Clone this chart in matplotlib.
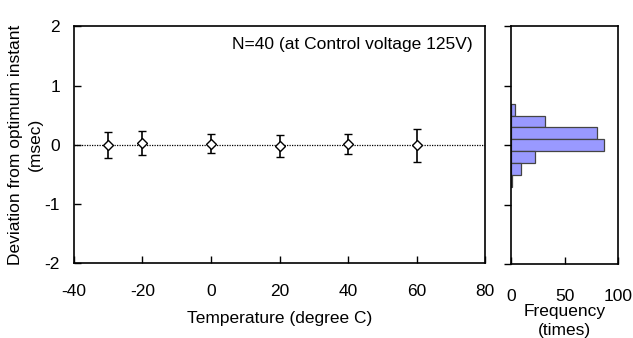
import matplotlib
matplotlib.use("Agg")
import matplotlib.pyplot as plt
from matplotlib.ticker import MultipleLocator

plt.rcParams['font.family'] = ['Liberation Sans', 'DejaVu Sans']
plt.rcParams['axes.unicode_minus'] = False

temperatures = [-30, -20, 0, 20, 40, 60]
deviation_mean = [0.00, 0.03, 0.02, -0.02, 0.01, -0.01]
deviation_err = [0.22, 0.21, 0.16, 0.19, 0.17, 0.28]

hist_bin_centers = [0.6, 0.4, 0.2, 0.0, -0.2, -0.4, -0.6]
hist_counts = [4, 32, 80, 87, 22, 9, 1]
bin_width = 0.2

fig = plt.figure(figsize=(6.33, 3.38), dpi=100)
ax = fig.add_axes([0.1169, 0.2219, 0.6493, 0.6998])
axh = fig.add_axes([0.8073, 0.2190, 0.1690, 0.7027])

fs = 12.5

ax.axhline(0, color='black', linestyle=(0, (1, 1)), linewidth=0.9, zorder=1)
ax.errorbar(temperatures, deviation_mean, yerr=deviation_err, fmt='D',
            markersize=5, markerfacecolor='white', markeredgecolor='black',
            markeredgewidth=1.0, ecolor='black', elinewidth=1.2, capsize=2.7,
            capthick=1.2, zorder=3)
ax.set_xlim(-40, 80)
ax.set_ylim(-2, 2)
ax.xaxis.set_major_locator(MultipleLocator(20))
ax.yaxis.set_major_locator(MultipleLocator(1))
ax.tick_params(axis='x', direction='in', length=5, width=1, labelsize=fs, pad=15)
ax.tick_params(axis='y', direction='in', length=5, width=1, labelsize=fs, pad=10)
for s in ax.spines.values():
    s.set_linewidth(1.2)
ax.set_xlabel('Temperature (degree C)', fontsize=fs, labelpad=9)
ax.set_ylabel('Deviation from optimum instant\n(msec)', fontsize=fs, labelpad=1,
              linespacing=1.45)
ax.text(0.97, 0.925, 'N=40 (at Control voltage 125V)', transform=ax.transAxes,
        ha='right', va='center', fontsize=fs)

axh.barh(hist_bin_centers, hist_counts, height=bin_width, color='#9999ff',
         edgecolor='#444444', linewidth=0.9)
axh.set_xlim(0, 100)
axh.set_ylim(-2, 2)
axh.xaxis.set_major_locator(MultipleLocator(50))
axh.yaxis.set_major_locator(MultipleLocator(1))
axh.tick_params(axis='x', direction='in', length=5, width=1, labelsize=fs, pad=18)
axh.tick_params(axis='y', direction='out', length=5, width=1, labelleft=False)
for s in axh.spines.values():
    s.set_linewidth(1.2)
axh.set_xlabel('Frequency\n(times)', fontsize=fs, labelpad=0, linespacing=1.3)

fig.savefig('out.png', dpi=100)
